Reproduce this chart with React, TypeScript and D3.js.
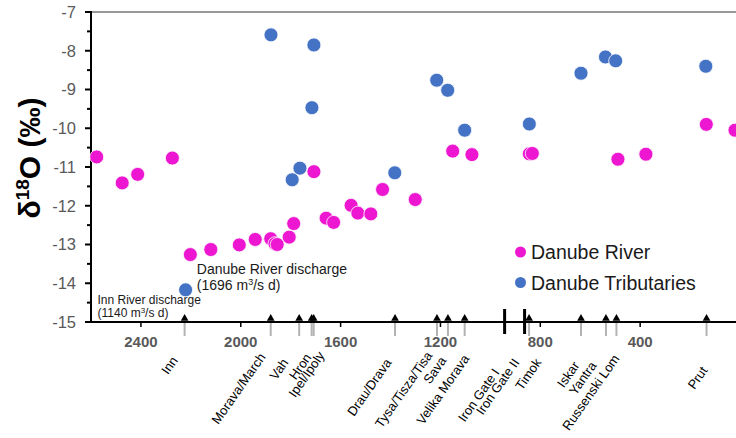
import React, { useEffect, useRef } from "react";
import * as d3 from "d3";

// Danube river samples (river km upstream of mouth, d18O permil)
const danubeKm = [2577, 2475, 2413, 2274, 2202, 2120, 2006, 1942, 1880, 1863, 1854, 1806, 1788, 1707, 1658, 1628, 1558, 1531, 1479, 1432, 1301, 1151, 1074, 844, 832, 489, 377, 135, 20];
const danubeD18O = [-10.74, -11.41, -11.19, -10.77, -13.26, -13.13, -13.01, -12.87, -12.85, -12.98, -13.0, -12.81, -12.46, -11.12, -12.32, -12.43, -11.99, -12.19, -12.21, -11.58, -11.84, -10.59, -10.68, -10.66, -10.65, -10.8, -10.67, -9.9, -10.05];

// tributary samples
const tribKm = [2221, 1879, 1794, 1763, 1715, 1707, 1383, 1215, 1171, 1103, 844, 637, 539, 498, 137];
const tribD18O = [-14.17, -7.59, -11.33, -11.03, -9.47, -7.85, -11.15, -8.76, -9.02, -10.05, -9.89, -8.58, -8.16, -8.26, -8.4];

// tributary mouths along the axis
const tributaryNames = ["Inn", "Morava/March", "Vah", "Hron", "Ipel/Ipoly", "Drau/Drava", "Tysa/Tisza/Tisa", "Sava", "Velika Morava", "Iron Gate I", "Iron Gate II", "Timok", "Iskar", "Yantra", "Russenski Lom", "Prut"];
const tributaryKm = [2225, 1880, 1766, 1716, 1708, 1382, 1214, 1170, 1103, 943, 863, 845, 637, 537, 495, 134];
const damNames = ["Iron Gate I", "Iron Gate II"];

const yTicks = [-7, -8, -9, -10, -11, -12, -13, -14, -15];
const xTicks = [2400, 2000, 1600, 1200, 800, 400];

// label nudges (px) for the rotated tributary names
const labelDx = [-6.3, -4.7, -10.2, 0.3, 11.4, -3, -4, -1, 5.3, -4.6, -4.6, 12.9, -1, -8.9, 3.6, 1.5];
const labelDy = [38.5, 35, 40.5, 35.5, 33.5, 40.5, 33.5, 38.5, 36.5, 50.5, 40.5, 40.5, 43.5, 43.5, 36.5, 48.5];

const pink = "#ED17D1";
const blue = "#4472C4";
const grey = "#595959";
const font = "'Liberation Sans', Arial, sans-serif";

export default function App() {
  const ref = useRef<SVGSVGElement>(null);

  useEffect(() => {
    const svg = d3.select(ref.current);
    svg.selectAll("*").remove();

    const x = d3.scaleLinear().domain([2600, 0]).range([91, 740]);
    const y = d3.scaleLinear().domain([-15, -7]).range([322, 12]);
    const x0 = 91, yBase = 322;

    // top frame line
    svg.append("line").attr("x1", x0).attr("x2", 736).attr("y1", 12).attr("y2", 12)
      .attr("stroke", "#333").attr("stroke-width", 1.2);

    // y axis
    const yg = svg.append("g").attr("font-family", font);
    yg.append("line").attr("x1", x0).attr("x2", x0).attr("y1", 11).attr("y2", yBase + 1)
      .attr("stroke", "#000").attr("stroke-width", 2);
    yTicks.forEach((t) => {
      yg.append("line").attr("x1", x0 - 6).attr("x2", x0).attr("y1", y(t)).attr("y2", y(t))
        .attr("stroke", "#000").attr("stroke-width", 2);
      if (t > -15) {
        yg.append("line").attr("x1", x0 - 4).attr("x2", x0).attr("y1", y(t - 0.5)).attr("y2", y(t - 0.5))
          .attr("stroke", "#000").attr("stroke-width", 2);
      }
      yg.append("text").attr("x", 76).attr("y", y(t)).attr("dy", "0.36em")
        .attr("text-anchor", "end").attr("font-size", 16.5).attr("fill", grey).text(t);
    });

    // axis title
    const title = svg.append("text")
      .attr("transform", "translate(40,158) rotate(-90)")
      .attr("text-anchor", "middle").attr("font-family", font)
      .attr("font-weight", "bold").attr("font-size", 30).attr("fill", "#000");
    title.append("tspan").text("δ");
    title.append("tspan").attr("font-size", 19).attr("dy", -11).text("18");
    title.append("tspan").attr("dy", 11).text("O (‰)");

    // x axis
    const xg = svg.append("g").attr("font-family", font);
    xg.append("line").attr("x1", x0).attr("x2", 736).attr("y1", yBase).attr("y2", yBase)
      .attr("stroke", "#000").attr("stroke-width", 2);
    xTicks.forEach((t) => {
      xg.append("line").attr("x1", x(t)).attr("x2", x(t)).attr("y1", yBase).attr("y2", yBase + 5)
        .attr("stroke", "#000").attr("stroke-width", 1.5);
      xg.append("text").attr("x", x(t)).attr("y", 346.5).attr("text-anchor", "middle")
        .attr("font-size", 15).attr("font-weight", "bold").attr("fill", grey).text(t);
    });

    // tributary markers and dam breaks
    tributaryNames.forEach((name, i) => {
      const px = x(tributaryKm[i]);
      if (damNames.includes(name)) {
        xg.append("line").attr("x1", px).attr("x2", px).attr("y1", 309).attr("y2", 334)
          .attr("stroke", "#000").attr("stroke-width", 3);
      } else {
        xg.append("line").attr("x1", px).attr("x2", px).attr("y1", yBase + 1).attr("y2", yBase + 14)
          .attr("stroke", "#b3b3b3").attr("stroke-width", 2);
        xg.append("path")
          .attr("d", d3.symbol().type(d3.symbolTriangle).size(26)())
          .attr("transform", `translate(${px},${yBase - 3.5})`)
          .attr("fill", "#000");
      }
      const lx = px + labelDx[i];
      const ly = yBase + labelDy[i];
      xg.append("text").attr("transform", `translate(${lx},${ly}) rotate(-55)`)
        .attr("text-anchor", "end").attr("font-size", 13).attr("fill", "#000").text(name);
    });

    // annotations
    const ann = svg.append("g").attr("font-family", font).attr("fill", "#1a1a1a");
    const a1 = ann.append("text").attr("font-size", 14).attr("x", x(2176)).attr("y", 273.5);
    a1.text("Danube River discharge");
    const a2 = ann.append("text").attr("font-size", 14).attr("x", x(2176)).attr("y", 290);
    a2.append("tspan").text("(1696 m");
    a2.append("tspan").attr("font-size", 9).attr("dy", -5).text("3");
    a2.append("tspan").attr("dy", 5).text("/s d)");
    ann.append("text").attr("font-size", 12).attr("x", 97.5).attr("y", 303.5).text("Inn River discharge");
    const a4 = ann.append("text").attr("font-size", 12).attr("x", 97.5).attr("y", 317);
    a4.append("tspan").text("(1140 m");
    a4.append("tspan").attr("font-size", 8).attr("dy", -4).text("3");
    a4.append("tspan").attr("dy", 4).text("/s d)");

    // points
    svg.append("g").selectAll("circle").data(danubeKm).enter().append("circle")
      .attr("cx", (d) => x(d)).attr("cy", (d, i) => y(danubeD18O[i])).attr("r", 7)
      .attr("fill", pink).attr("stroke", "#fff").attr("stroke-width", 0.8);
    svg.append("g").selectAll("circle").data(tribKm).enter().append("circle")
      .attr("cx", (d) => x(d)).attr("cy", (d, i) => y(tribD18O[i])).attr("r", 7)
      .attr("fill", blue).attr("stroke", "#fff").attr("stroke-width", 0.8);

    // legend
    const lg = svg.append("g").attr("font-family", font);
    [["Danube River", pink], ["Danube Tributaries", blue]].forEach(([label, c], i) => {
      lg.append("circle").attr("cx", 520.5).attr("cy", 252 + i * 30.5).attr("r", 5.5).attr("fill", c);
      lg.append("text").attr("x", 531).attr("y", 259 + i * 30.5).attr("font-size", 19.5)
        .attr("fill", "#1a1a1a").text(label);
    });
  });

  return (
    <svg ref={ref} width={736} height={438}
      style={{ position: "absolute", left: 0, top: 0, background: "#fff" }} />
  );
}
